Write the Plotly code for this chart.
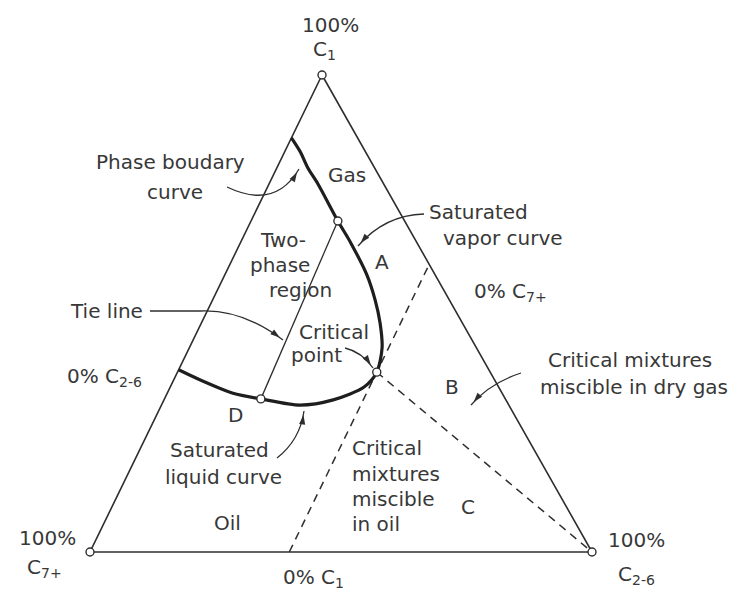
import math
import plotly.graph_objects as go

W, H = 753, 599
PAGE_OFF = 8  # default body margin of the html page

# compositions in mole % : C1 and C2-6 (C7+ is the remainder)
vertex_names = ["100% C1", "100% C2-6", "100% C7+"]
vertex_c1 = [100, 0, 0]
vertex_c26 = [0, 100, 0]

# phase boundary (left edge -> saturated vapour -> critical point -> saturated liquid -> left edge)
phase_c1 = [86.8, 83.9, 80.5, 77.1, 69.4, 64.8, 58.1, 52.8, 48.0, 42.8, 37.7,
            34.6, 31.9, 30.8, 32.1, 33.3, 36.1, 38.2]
phase_c26 = [0.0, 3.1, 6.2, 9.8, 17.3, 22.0, 28.3, 32.4, 35.6, 38.4, 39.7,
             38.6, 33.7, 27.6, 19.2, 13.1, 5.2, 0.0]

# tie line: D (liquid) -> vapour point
tie_c1 = [32.1, 69.4]
tie_c26 = [19.2, 17.3]

# critical point
crit_c1 = [37.7]
crit_c26 = [39.7]

# dashed boundaries through the critical point
oil_line_c1 = [0, 60.3]      # constant C2-6 line
oil_line_c26 = [39.7, 39.7]
gas_line_c1 = [37.7, 0]      # critical point -> 100% C2-6
gas_line_c26 = [39.7, 100]

# triangle geometry (scanned figure is a little taller than equilateral)
APEX_X = 0.4622
APEX_Y = 0.9502
SCALE = 502.0           # px per unit
ORIGIN = (90, 552)      # 100% C7+ corner on the page


def to_xy(c1, c26):
    x = [b / 100 + a / 100 * APEX_X for a, b in zip(c1, c26)]
    y = [a / 100 * APEX_Y for a in c1]
    return x, y


def px2data(x, y):
    return (x - ORIGIN[0]) / SCALE, (ORIGIN[1] - y) / SCALE


INK = "#2e2e2e"
TXT = "#383838"
FONT = "DejaVu Sans"

fig = go.Figure()

# triangle frame
tx, ty = to_xy(vertex_c1 + vertex_c1[:1], vertex_c26 + vertex_c26[:1])
fig.add_trace(go.Scatter(x=tx, y=ty, mode="lines",
                         line=dict(color=INK, width=1.6), hoverinfo="skip"))

# dashed lines
for c1, c26 in [(oil_line_c1, oil_line_c26), (gas_line_c1, gas_line_c26)]:
    x, y = to_xy(c1, c26)
    fig.add_trace(go.Scatter(x=x, y=y, mode="lines",
                             line=dict(color=INK, width=1.5, dash="8px,6px"),
                             hoverinfo="skip"))

# tie line
x, y = to_xy(tie_c1, tie_c26)
fig.add_trace(go.Scatter(x=x, y=y, mode="lines",
                         line=dict(color=INK, width=1.3), hoverinfo="skip"))

# phase boundary curve
x, y = to_xy(phase_c1, phase_c26)
fig.add_trace(go.Scatter(x=x, y=y, mode="lines",
                         line=dict(color="#1e1e1e", width=3.2, shape="spline", smoothing=0.8),
                         hoverinfo="skip"))

# small open circles
x, y = to_xy(vertex_c1 + crit_c1 + tie_c1, vertex_c26 + crit_c26 + tie_c26)
fig.add_trace(go.Scatter(x=x, y=y, mode="markers",
                         marker=dict(symbol="circle", size=8, color="white",
                                     line=dict(color=INK, width=1.4)),
                         hoverinfo="skip"))

# text labels: (text, x_px, y_px, anchor)
labels = [
    ("100%", 330, 25, "center"),
    ("C<sub>1</sub>", 324, 50, "center"),
    ("100%", 47, 538, "center"),
    ("C<sub>7+</sub>", 44, 568, "center"),
    ("100%", 636, 540, "center"),
    ("C<sub>2-6</sub>", 636, 575, "center"),
    ("0% C<sub>1</sub>", 313, 578, "center"),
    ("0% C<sub>2-6</sub>", 104, 377, "center"),
    ("0% C<sub>7+</sub>", 510, 292, "center"),
    ("Phase boudary", 170, 162, "center"),
    ("curve", 175, 192, "center"),
    ("Gas", 347, 175, "center"),
    ("Two-", 283, 240, "center"),
    ("phase", 280, 265, "center"),
    ("region", 300, 290, "center"),
    ("A", 382, 262, "center"),
    ("Saturated", 478, 212, "center"),
    ("vapor curve", 503, 238, "center"),
    ("Tie line", 106, 311, "center"),
    ("Critical", 334, 332, "center"),
    ("point", 316, 355, "center"),
    ("D", 235, 415, "center"),
    ("Saturated", 219, 450, "center"),
    ("liquid curve", 223, 477, "center"),
    ("Oil", 227, 523, "center"),
    ("Critical", 350, 448, "left"),
    ("mixtures", 350, 474, "left"),
    ("miscible", 350, 499, "left"),
    ("in oil", 350, 524, "left"),
    ("C", 468, 507, "center"),
    ("B", 452, 387, "center"),
    ("Critical mixtures", 630, 360, "center"),
    ("miscible in dry gas", 634, 387, "center"),
]
for text, px, py, anchor in labels:
    ax_, ay_ = px2data(px, py)
    fig.add_annotation(text=text, x=ax_, y=ay_, xref="x", yref="y",
                       xanchor=anchor, yanchor="middle", showarrow=False,
                       font=dict(family=FONT, size=20, color=TXT))

# curved pointer arrows: start, control, end (pixels)
pointers = [
    ((227, 187), (275, 210), (299, 169)),   # phase boundary
    ((424, 214), (385, 215), (358, 246)),   # saturated vapour
    ((200, 311), (242, 309), (283, 340)),   # tie line
    ((345, 348), (362, 352), (373, 368)),   # critical point
    ((277, 458), (300, 440), (304, 411)),   # saturated liquid
    ((521, 373), (490, 383), (471, 405)),   # dry gas
]
head_x, head_y, head_ang = [], [], []
for (x0, y0), (cx, cy), (x1, y1) in pointers:
    a, b = px2data(x0, y0)
    c, d = px2data(cx, cy)
    e, f = px2data(x1, y1)
    fig.add_shape(type="path", path=f"M {a},{b} Q {c},{d} {e},{f}",
                  xref="x", yref="y", line=dict(color=INK, width=1.3))
    dx, dy = x1 - cx, y1 - cy
    n = math.hypot(dx, dy)
    hx, hy = px2data(x1 - dx / n * 4, y1 - dy / n * 4)
    head_x.append(hx)
    head_y.append(hy)
    head_ang.append(math.degrees(math.atan2(dx, -dy)))

fig.add_trace(go.Scatter(x=head_x, y=head_y, mode="markers",
                         marker=dict(symbol="arrow", size=10, angle=head_ang,
                                     color=INK, line=dict(width=0)),
                         hoverinfo="skip"))

# straight lead-in of the tie line pointer
a, b = px2data(150, 311)
c, d = px2data(200, 311)
fig.add_shape(type="line", x0=a, y0=b, x1=c, y1=d, xref="x", yref="y",
              line=dict(color=INK, width=1.3))

# page pixel (px, py) -> plot pixel (px - 8, py - 8)
x_lo = -(ORIGIN[0] - PAGE_OFF) / SCALE
y_hi = (ORIGIN[1] - PAGE_OFF) / SCALE
fig.update_layout(
    width=W, height=H,
    margin=dict(l=0, r=0, t=0, b=0),
    paper_bgcolor="white", plot_bgcolor="white",
    showlegend=False,
    xaxis=dict(range=[x_lo, x_lo + W / SCALE], visible=False, fixedrange=True),
    yaxis=dict(range=[y_hi - H / SCALE, y_hi], visible=False, fixedrange=True),
)

fig.write_html("out.html")
